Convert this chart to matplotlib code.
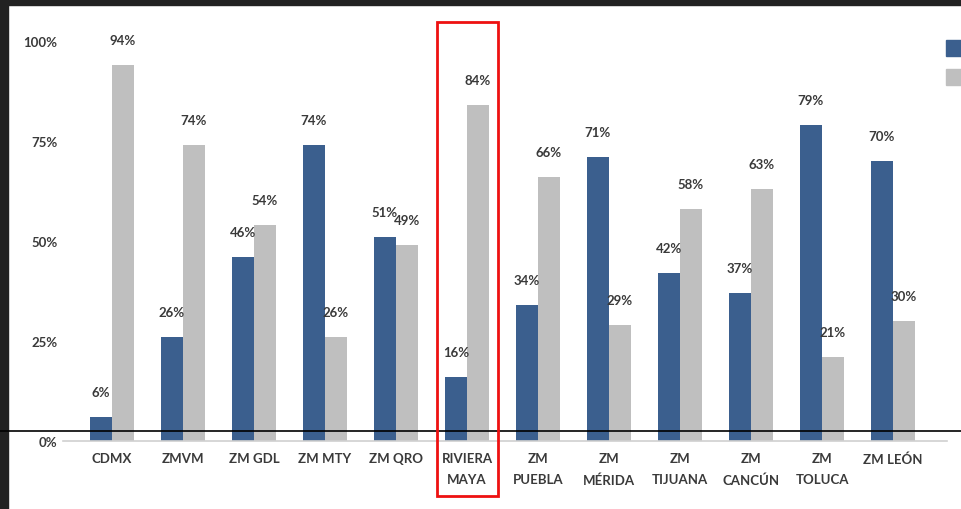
import matplotlib
matplotlib.use("Agg")
import matplotlib.pyplot as plt
from matplotlib.patches import Rectangle
import numpy as np

categories = ["CDMX", "ZMVM", "ZM GDL", "ZM MTY", "ZM QRO", "RIVIERA\nMAYA",
              "ZM\nPUEBLA", "ZM\nMÉRIDA", "ZM\nTIJUANA", "ZM\nCANCÚN", "ZM\nTOLUCA", "ZM LEÓN"]
serie_azul = [6, 26, 46, 74, 51, 16, 34, 71, 42, 37, 79, 70]
serie_gris = [94, 74, 54, 26, 49, 84, 66, 29, 58, 63, 21, 30]
yticks = [0, 25, 50, 75, 100]
ytick_labels = ["0%", "25%", "50%", "75%", "100%"]

BLUE = "#3b5f8e"
GRAY = "#bfbfbf"
TXT = "#3a3a3a"
W, H = 961, 510

plt.rcParams['font.family'] = ['Lato', 'DejaVu Sans']
fig = plt.figure(figsize=(W / 100, H / 100), dpi=100)
fig.patch.set_facecolor("white")

ax_l, ax_r, ax_b, ax_t = 63, 947, 442, 42
ax = fig.add_axes([ax_l / W, (H - ax_b) / H, (ax_r - ax_l) / W, (ax_b - ax_t) / H])
spacing = 71.0
c0 = 112
ax.set_xlim((ax_l - c0) / spacing, (ax_r - c0) / spacing)
ax.set_ylim(0, 100)

x = np.arange(len(categories))
bw = 0.31
b1 = ax.bar(x - bw / 2, serie_azul, bw, color=BLUE, zorder=2)
b2 = ax.bar(x + bw / 2, serie_gris, bw, color=GRAY, zorder=2)

for bars, vals in ((b1, serie_azul), (b2, serie_gris)):
    for rect, v in zip(bars, vals):
        ax.annotate(f"{v}%", (rect.get_x() + rect.get_width() / 2, v),
                    xytext=(0, 18), textcoords="offset points",
                    ha="center", va="center", fontsize=9.5, color=TXT,
                    fontweight="bold", annotation_clip=False)

ax.set_yticks(yticks)
ax.set_yticklabels(ytick_labels, fontsize=9.5, color=TXT, fontweight="bold")
ax.set_xticks(x)
ax.set_xticklabels(categories, fontsize=9.5, color=TXT, fontweight="bold", linespacing=1.85)
ax.tick_params(axis="both", length=0)
ax.tick_params(axis="y", pad=4)
ax.tick_params(axis="x", pad=8)
for s in ("top", "right", "left"):
    ax.spines[s].set_visible(False)
ax.spines["bottom"].set_color("#d0d0d0")
ax.spines["bottom"].set_linewidth(1.2)

# legend squares (cut off at the right edge)
fig.patches.append(Rectangle((946 / W, (H - 57) / H), 20 / W, 16 / H,
                             transform=fig.transFigure, color=BLUE))
fig.patches.append(Rectangle((946 / W, (H - 86) / H), 20 / W, 16 / H,
                             transform=fig.transFigure, color=GRAY))

# dark frame on top and left
fig.patches.append(Rectangle((0, (H - 6) / H), 1, 6 / H, transform=fig.transFigure,
                             color="#222222", zorder=5))
fig.patches.append(Rectangle((0, 0), 8 / W, 1, transform=fig.transFigure,
                             color="#222222", zorder=5))

# black horizontal line across
fig.add_artist(plt.Line2D([0, 1], [(H - 432) / H] * 2, transform=fig.transFigure,
                          color="black", lw=1.2, zorder=6))

# red highlight box around RIVIERA MAYA
fig.patches.append(Rectangle((437 / W, (H - 497) / H), 61 / W, 474 / H,
                             transform=fig.transFigure, fill=False,
                             edgecolor="#ee1111", lw=2, zorder=6))

fig.savefig("out.png", dpi=100)
